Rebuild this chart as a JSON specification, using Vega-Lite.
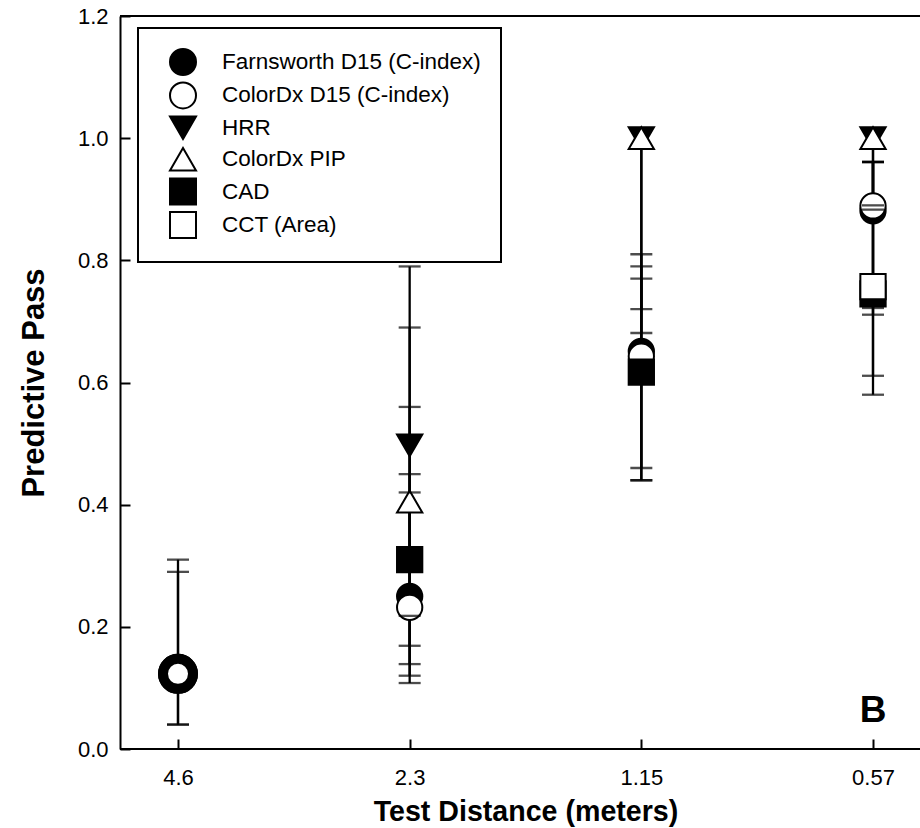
{
  "$schema": "https://vega.github.io/schema/vega-lite/v6.json",
  "autosize": {"type": "none"},
  "padding": {"left": 120, "top": 16, "right": 0, "bottom": 79},
  "width": 800,
  "height": 733,
  "background": "white",
  "config": {
    "view": {"stroke": null},
    "font": "Liberation Sans",
    "axis": {
      "domainColor": "black", "domainWidth": 2, "tickColor": "black", "tickWidth": 2,
      "tickSize": -10, "grid": false, "labelColor": "black", "labelFontSize": 22,
      "labelFont": "Liberation Sans", "titleFont": "Liberation Sans", "titleFontSize": 28,
      "titleFontWeight": "bold", "titleColor": "black"
    },
    "legend": {"strokeWidth": 2}
  },
  "datasets": {
    "pts": [
      {"dist": "4.6", "test": "Farnsworth D15 (C-index)", "value": 0.123, "lo": 0.04, "hi": 0.29},
      {"dist": "4.6", "test": "ColorDx D15 (C-index)", "value": 0.123, "lo": 0.04, "hi": 0.31},
      {"dist": "2.3", "test": "Farnsworth D15 (C-index)", "value": 0.25, "lo": 0.12, "hi": 0.45},
      {"dist": "2.3", "test": "ColorDx D15 (C-index)", "value": 0.232, "lo": 0.108, "hi": 0.42},
      {"dist": "2.3", "test": "HRR", "value": 0.497, "lo": 0.218, "hi": 0.79},
      {"dist": "2.3", "test": "ColorDx PIP", "value": 0.405, "lo": 0.169, "hi": 0.69},
      {"dist": "2.3", "test": "CAD", "value": 0.31, "lo": 0.139, "hi": 0.56},
      {"dist": "1.15", "test": "Farnsworth D15 (C-index)", "value": 0.651, "lo": 0.46, "hi": 0.81},
      {"dist": "1.15", "test": "ColorDx D15 (C-index)", "value": 0.643, "lo": 0.44, "hi": 0.79},
      {"dist": "1.15", "test": "HRR", "value": 1.0, "lo": 0.72, "hi": 1.0},
      {"dist": "1.15", "test": "ColorDx PIP", "value": 1.0, "lo": 0.681, "hi": 1.0},
      {"dist": "1.15", "test": "CAD", "value": 0.617, "lo": 0.44, "hi": 0.77},
      {"dist": "0.57", "test": "Farnsworth D15 (C-index)", "value": 0.881, "lo": 0.711, "hi": 0.961},
      {"dist": "0.57", "test": "ColorDx D15 (C-index)", "value": 0.889, "lo": 0.722, "hi": 0.961},
      {"dist": "0.57", "test": "HRR", "value": 1.0, "lo": 0.883, "hi": 1.0},
      {"dist": "0.57", "test": "ColorDx PIP", "value": 1.0, "lo": 0.89, "hi": 1.0},
      {"dist": "0.57", "test": "CAD", "value": 0.745, "lo": 0.58, "hi": 0.961},
      {"dist": "0.57", "test": "CCT (Area)", "value": 0.757, "lo": 0.611, "hi": 0.961}
    ],
    "panel": [{"dist": "0.57", "y": 0.044, "label": "B"}]
  },
  "layer": [
    {
      "data": {"name": "pts"},
      "mark": {"type": "rule", "color": "black", "strokeWidth": 2.3},
      "encoding": {
        "x": {"field": "dist", "type": "ordinal", "sort": ["4.6", "2.3", "1.15", "0.57"],
              "scale": {"type": "point", "range": [58, 753], "padding": 0},
              "axis": {"title": "Test Distance (meters)", "titleFontSize": 28.6, "labelAngle": 0, "labelPadding": 28, "titlePadding": 9, "domain": false}},
        "y": {"field": "lo", "type": "quantitative",
              "scale": {"domain": [0, 1.2], "nice": false, "zero": false},
              "axis": {"title": "Predictive Pass", "titleFontSize": 31, "values": [0, 0.2, 0.4, 0.6, 0.8, 1.0, 1.2], "format": ".1f", "labelPadding": 22, "titlePadding": 27}},
        "y2": {"field": "hi"}
      }
    },
    {
      "data": {"name": "pts"},
      "mark": {"type": "rule", "color": "black", "strokeWidth": 2},
      "encoding": {"y": {"datum": 1.2}}
    },
    {
      "data": {"name": "pts"},
      "mark": {"type": "rule", "color": "black", "strokeWidth": 2},
      "encoding": {"y": {"datum": 0}}
    },
    {
      "data": {"name": "pts"},
      "mark": {"type": "point", "strokeWidth": 2, "opacity": 1},
      "encoding": {
        "x": {"field": "dist", "type": "ordinal", "sort": ["4.6", "2.3", "1.15", "0.57"]},
        "y": {"field": "value", "type": "quantitative"},
        "shape": {"field": "test", "type": "nominal",
          "scale": {"domain": ["Farnsworth D15 (C-index)", "ColorDx D15 (C-index)", "HRR", "ColorDx PIP", "CAD", "CCT (Area)"],
                    "range": ["circle", "circle", "triangle-down", "triangle-up", "square", "square"]},
          "legend": {"title": null, "orient": "none", "legendX": 18, "legendY": 12, "padding": 20,
                     "fillColor": "white", "strokeColor": "black",
                     "labelFontSize": 22.5, "labelFont": "Liberation Sans", "labelColor": "black", "labelOffset": 25,
                     "symbolOffset": 11, "symbolSize": 676, "symbolStrokeWidth": 2,
                     "rowPadding": -0.6, "labelLimit": 400}},
        "fill": {"field": "test", "type": "nominal",
          "scale": {"domain": ["Farnsworth D15 (C-index)", "ColorDx D15 (C-index)", "HRR", "ColorDx PIP", "CAD", "CCT (Area)"],
                    "range": ["black", "white", "black", "white", "black", "white"]},
          "legend": {"title": null, "orient": "none", "legendX": 18, "legendY": 12, "padding": 20,
                     "fillColor": "white", "strokeColor": "black",
                     "labelFontSize": 22.5, "labelFont": "Liberation Sans", "labelColor": "black", "labelOffset": 25,
                     "symbolOffset": 11, "symbolSize": 676, "symbolStrokeWidth": 2,
                     "rowPadding": -0.6, "labelLimit": 400}},
        "stroke": {"field": "test", "type": "nominal",
          "scale": {"domain": ["Farnsworth D15 (C-index)", "ColorDx D15 (C-index)", "HRR", "ColorDx PIP", "CAD", "CCT (Area)"],
                    "range": ["black", "black", "black", "black", "black", "black"]},
          "legend": {"title": null, "orient": "none", "legendX": 18, "legendY": 12, "padding": 20,
                     "fillColor": "white", "strokeColor": "black",
                     "labelFontSize": 22.5, "labelFont": "Liberation Sans", "labelColor": "black", "labelOffset": 25,
                     "symbolOffset": 11, "symbolSize": 676, "symbolStrokeWidth": 2,
                     "rowPadding": -0.6, "labelLimit": 400}},
        "size": {"condition": {"test": "datum.dist == '4.6'", "value": 900}, "value": 640},
        "strokeWidth": {"condition": {"test": "datum.dist == '4.6'", "value": 10}, "value": 2}
      }
    },
    {
      "data": {"name": "pts"},
      "transform": [
        {"fold": ["lo", "hi"], "as": ["bound", "cap"]},
        {"filter": "datum.cap < 1"}
      ],
      "mark": {"type": "tick", "color": "black", "size": 22, "thickness": 2.3, "orient": "horizontal"},
      "encoding": {
        "x": {"field": "dist", "type": "ordinal", "sort": ["4.6", "2.3", "1.15", "0.57"]},
        "y": {"field": "cap", "type": "quantitative"}
      }
    },
    {
      "data": {"name": "panel"},
      "mark": {"type": "text", "font": "Liberation Sans", "fontWeight": "bold", "fontSize": 37, "color": "black", "baseline": "alphabetic", "align": "center"},
      "encoding": {
        "x": {"field": "dist", "type": "ordinal", "sort": ["4.6", "2.3", "1.15", "0.57"]},
        "y": {"field": "y", "type": "quantitative"},
        "text": {"field": "label"}
      }
    }
  ]
}
